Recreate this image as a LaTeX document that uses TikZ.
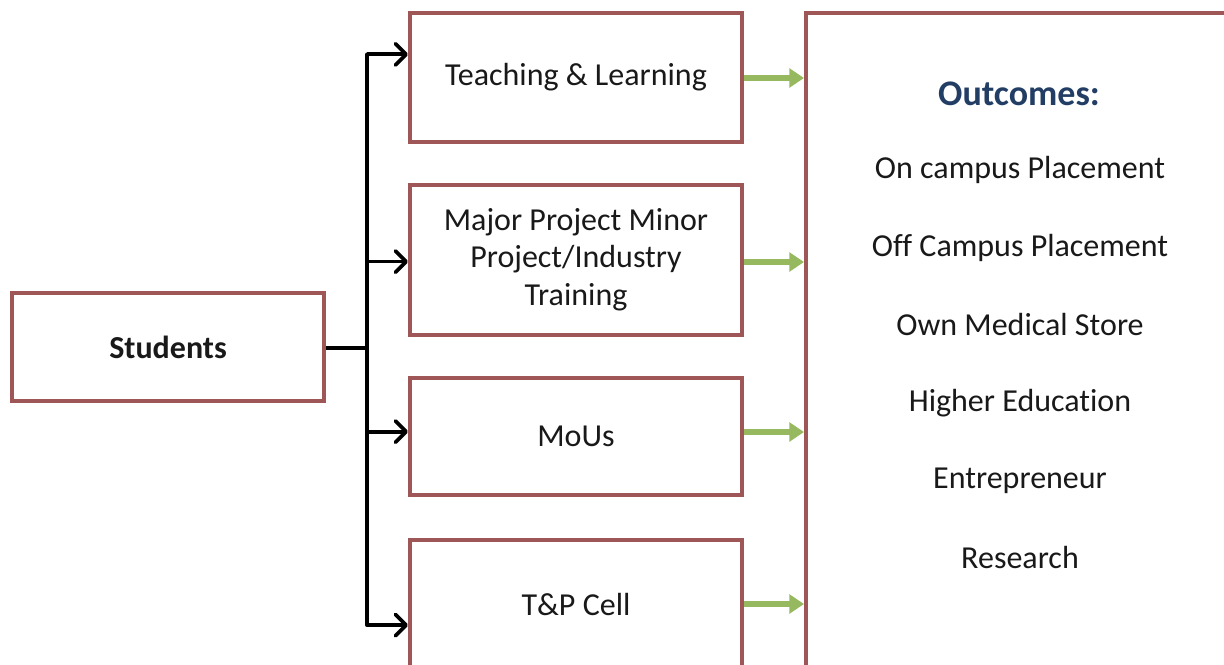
\documentclass[tikz,border=0pt]{standalone}
\usepackage{fontspec}
\setmainfont{Carlito}[Ligatures=NoCommon]
\usetikzlibrary{arrows.meta,calc}
\definecolor{boxred}{RGB}{158,86,86}
\definecolor{arrgreen}{RGB}{150,185,95}
\definecolor{outblue}{RGB}{35,62,100}
\definecolor{txt}{RGB}{25,25,25}
\tikzset{
  box/.style={draw=boxred, line width=3pt, fill=white, align=center, font=\fontsize{24}{29}\selectfont, text=txt, minimum width=249pt, inner sep=0pt},
  barrow/.style={line width=2.8pt, black, -{Straight Barb[length=8pt,width=16pt,line width=2.8pt,round]}},
  garrow/.style={line width=4pt, arrgreen, -{Triangle[length=11pt,width=14pt]}},
  otext/.style={font=\fontsize{24}{29}\selectfont, text=txt, inner sep=0pt},
}
\begin{document}
\begin{tikzpicture}[x=0.75pt,y=-0.75pt]
\useasboundingbox (0,0) rectangle (1224,664);
\clip (0,0) rectangle (1224,664);
\fill[white] (0,0) rectangle (1224,664);
% boxes
\node[box, minimum width=234pt, minimum height=81pt, font=\fontsize{24}{29}\selectfont\bfseries] (stud) at (168,347) {Students};
\node[box, minimum height=96.75pt] (teach) at (576,77.5) {\raisebox{-2pt}{Teaching \& Learning}};
\node[box, minimum height=112.5pt] (major) at (576,260) {\raisebox{-2pt}{\begin{tabular}{@{}c@{}}Major Project Minor\\[-1pt]Project/Industry\\[-1pt]Training\end{tabular}}};
\node[box, minimum height=87.75pt] (mous) at (576,436.5) {MoUs};
\node[box, minimum height=96pt] (tp) at (576,604) {T\&P Cell};
\node[box, minimum width=322.5pt, minimum height=492.75pt] (outc) at (1021,341.5) {};
% outcome texts
\node[otext, font=\fontsize{27}{30}\selectfont\bfseries, text=outblue] (oh) at (1019,94) {Outcomes:};
\node[otext] (o1) at (1020,170) {On campus Placement};
\node[otext] (o2) at (1020,248) {Off Campus Placement};
\node[otext] (o3) at (1020,325) {Own Medical Store};
\node[otext] (o4) at (1020,403) {Higher Education};
\node[otext] (o5) at (1020,481) {Entrepreneur};
\node[otext] (o6) at (1020,557) {Research};
% bus
\coordinate (j) at (367,348);
\coordinate (ta) at ($(teach.north west)!0.326!(teach.south west)$);
\coordinate (ma) at ($(major.north west)!0.51!(major.south west)$);
\coordinate (mo) at ($(mous.north west)!0.46!(mous.south west)$);
\coordinate (tpa) at ($(tp.north west)!0.66!(tp.south west)$);
\draw[line width=2.8pt] (stud.east |- j) -- (j);
\draw[line width=2.8pt, line cap=round] (j |- ta) -- (j |- tpa);
\draw[barrow] (j |- ta) -- (ta);
\draw[barrow] (j |- ma) -- (ma);
\draw[barrow] (j |- mo) -- (mo);
\draw[barrow] (j |- tpa) -- (tpa);
% green arrows
\draw[garrow] (teach.east |- 0,78) -- (outc.west |- 0,78);
\draw[garrow] (major.east |- 0,262) -- (outc.west |- 0,262);
\draw[garrow] (mous.east |- 0,432) -- (outc.west |- 0,432);
\draw[garrow] (tp.east |- 0,604) -- (outc.west |- 0,604);
\end{tikzpicture}
\end{document}
